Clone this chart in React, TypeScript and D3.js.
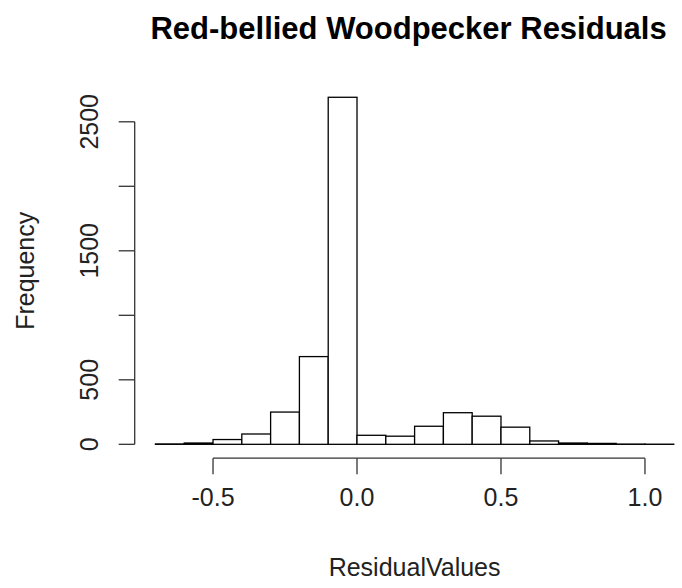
import React from 'react';
import * as d3 from 'd3';

// histogram bins (left edges) and counts, bin width 0.1
const binStarts = [-0.7, -0.6, -0.5, -0.4, -0.3, -0.2, -0.1, 0.0, 0.1, 0.2, 0.3, 0.4, 0.5, 0.6, 0.7, 0.8, 0.9, 1.0];
const counts = [3, 10, 37, 80, 250, 680, 2690, 70, 63, 140, 245, 218, 133, 26, 10, 7, 2, 1];
const binWidth = 0.1;

const xTicks = [-0.5, 0.0, 0.5, 1.0];
const yTicks = [0, 500, 1000, 1500, 2000, 2500];
const yTickLabels = ['0', '500', '', '1500', '', '2500'];

const title = 'Red-bellied Woodpecker Residuals';
const xLabel = 'ResidualValues';
const yLabel = 'Frequency';

const W = 682;
const H = 588;

const App: React.FC = () => {
  // plot region (R style: data range padded by 4%)
  const plot = { left: 134.7, right: 694.5, top: 83.4, bottom: 458.2 };

  const xMin = d3.min(binStarts)!;
  const xMax = d3.max(binStarts)! + binWidth;
  const xPad = (xMax - xMin) * 0.04;
  const yMax = d3.max(counts)!;
  const yPad = yMax * 0.04;

  const x = d3.scaleLinear().domain([xMin - xPad, xMax + xPad]).range([plot.left, plot.right]);
  const y = d3.scaleLinear().domain([-yPad, yMax + yPad]).range([plot.bottom, plot.top]);

  const font = '"Liberation Sans", Arial, Helvetica, sans-serif';
  const tickLen = 16;
  const axisColor = '#333';
  const cx = (plot.left + plot.right) / 2;

  return (
    <div style={{ position: 'fixed', left: 0, top: 0 }}>
      <svg width={W} height={H} style={{ display: 'block', background: '#fff' }} fontFamily={font}>
        {/* bars */}
        <g>
          {binStarts.map((b, i) => (
            <rect
              key={i}
              x={x(b)}
              y={y(counts[i])}
              width={x(b + binWidth) - x(b)}
              height={y(0) - y(counts[i])}
              fill="#fff"
              stroke="#000"
              strokeWidth={1.3}
            />
          ))}
        </g>

        {/* y axis */}
        <g stroke={axisColor} strokeWidth={1.3}>
          <line x1={plot.left} x2={plot.left} y1={y(yTicks[0])} y2={y(yTicks[yTicks.length - 1])} />
          {yTicks.map(t => (
            <line key={t} x1={plot.left} x2={plot.left - tickLen} y1={y(t)} y2={y(t)} />
          ))}
        </g>
        <g fontSize={25} fill="#222">
          {yTicks.map((t, i) => (
            <text
              key={t}
              transform={`translate(${plot.left - 37},${y(t)}) rotate(-90)`}
              textAnchor="middle"
            >
              {yTickLabels[i]}
            </text>
          ))}
        </g>

        {/* x axis */}
        <g stroke={axisColor} strokeWidth={1.3}>
          <line x1={x(xTicks[0])} x2={x(xTicks[xTicks.length - 1])} y1={plot.bottom} y2={plot.bottom} />
          {xTicks.map(t => (
            <line key={t} x1={x(t)} x2={x(t)} y1={plot.bottom} y2={plot.bottom + tickLen} />
          ))}
        </g>
        <g fontSize={25} fill="#222">
          {xTicks.map(t => (
            <text key={t} x={x(t)} y={plot.bottom + 48} textAnchor="middle">
              {d3.format('.1f')(t).replace('−', '-')}
            </text>
          ))}
        </g>

        {/* labels */}
        <text x={cx} y={H - 12} textAnchor="middle" fontSize={25} fill="#222">
          {xLabel}
        </text>
        <text
          transform={`translate(${34},${(plot.top + plot.bottom) / 2}) rotate(-90)`}
          textAnchor="middle"
          fontSize={25}
          fill="#222"
        >
          {yLabel}
        </text>
        <text x={cx - 6} y={39} textAnchor="middle" fontSize={31} fontWeight="bold" fill="#000">
          {title}
        </text>
      </svg>
    </div>
  );
};

export default App;
